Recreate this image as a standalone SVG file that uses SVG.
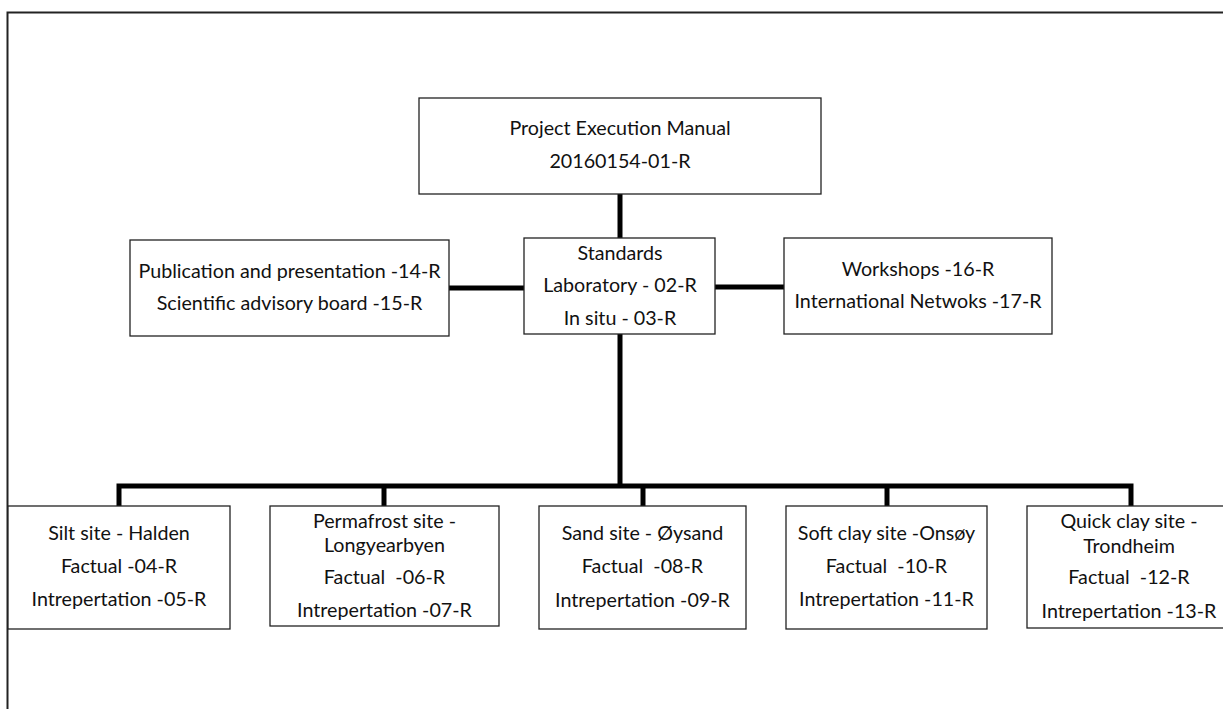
<svg xmlns="http://www.w3.org/2000/svg" width="1223" height="709" viewBox="0 0 1223 709">
<style>
.box{fill:#fff;stroke:#222;stroke-width:1.3}
.t{font-family:Lato,"Liberation Sans",sans-serif;font-size:19.7px;fill:#111;text-anchor:middle;white-space:pre}
.c{stroke:#000;stroke-width:5;fill:none;stroke-linecap:butt}
.frame{stroke:#222;stroke-width:2;fill:none}
</style>
<rect width="1223" height="709" fill="#fff"/>
<path class="frame" d="M7.5,709 V12.5 H1223"/>
<g id="connectors">
<line class="c" x1="620" y1="194" x2="620" y2="238"/>
<line class="c" x1="449" y1="288" x2="524" y2="288"/>
<line class="c" x1="715" y1="287" x2="784" y2="287"/>
<line class="c" x1="620" y1="334" x2="620" y2="486"/>
<path class="c" d="M119,506 V486 H1131 V506"/>
<line class="c" x1="384" y1="486" x2="384" y2="506"/>
<line class="c" x1="643" y1="486" x2="643" y2="506"/>
<line class="c" x1="887" y1="486" x2="887" y2="506"/>
</g>
<g id="pem">
<rect class="box" x="419" y="98" width="402" height="96"/>
<text class="t" x="620" y="135">Project Execution Manual</text>
<text class="t" x="620" y="168">20160154-01-R</text>
</g>
<g id="standards">
<rect class="box" x="524" y="238" width="191" height="96"/>
<text class="t" x="620" y="260">Standards</text>
<text class="t" x="620" y="292">Laboratory - 02-R</text>
<text class="t" x="620" y="325">In situ - 03-R</text>
</g>
<g id="publication">
<rect class="box" x="130" y="240" width="319" height="96"/>
<text class="t" x="289.5" y="278">Publication and presentation -14-R</text>
<text class="t" x="289.5" y="310">Scientific advisory board -15-R</text>
</g>
<g id="workshops">
<rect class="box" x="784" y="238" width="268" height="96"/>
<text class="t" x="918" y="276">Workshops -16-R</text>
<text class="t" x="918" y="308">International Netwoks -17-R</text>
</g>
<g id="silt">
<rect class="box" x="8" y="506" width="222" height="123"/>
<text class="t" x="119" y="540">Silt site - Halden</text>
<text class="t" x="119" y="573">Factual -04-R</text>
<text class="t" x="119" y="606">Intrepertation -05-R</text>
</g>
<g id="permafrost">
<rect class="box" x="270" y="506" width="229" height="120"/>
<text class="t" x="384.5" y="528">Permafrost site -</text>
<text class="t" x="384.5" y="552">Longyearbyen</text>
<text class="t" x="384.5" y="584">Factual  -06-R</text>
<text class="t" x="384.5" y="617">Intrepertation -07-R</text>
</g>
<g id="sand">
<rect class="box" x="539" y="506" width="207" height="123"/>
<text class="t" x="642.5" y="540">Sand site - Øysand</text>
<text class="t" x="642.5" y="573">Factual  -08-R</text>
<text class="t" x="642.5" y="607">Intrepertation -09-R</text>
</g>
<g id="softclay">
<rect class="box" x="786" y="506" width="201" height="123"/>
<text class="t" x="886.5" y="540">Soft clay site -Onsøy</text>
<text class="t" x="886.5" y="573">Factual  -10-R</text>
<text class="t" x="886.5" y="606">Intrepertation -11-R</text>
</g>
<g id="quickclay">
<rect class="box" x="1027" y="506" width="200" height="122"/>
<text class="t" x="1129" y="528">Quick clay site -</text>
<text class="t" x="1129" y="553">Trondheim</text>
<text class="t" x="1129" y="584">Factual  -12-R</text>
<text class="t" x="1129" y="618">Intrepertation -13-R</text>
</g>
</svg>
